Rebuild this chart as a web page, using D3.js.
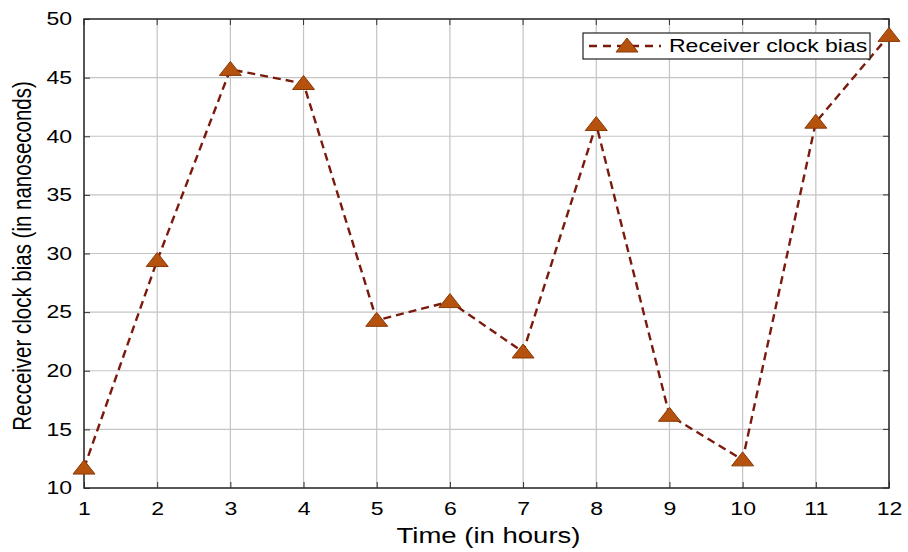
<!DOCTYPE html>
<html>
<head>
<meta charset="utf-8">
<script src="https://cdn.jsdelivr.net/npm/d3@7"></script>
<style>
  html, body { margin: 0; padding: 0; background: #fff; }
  svg text { font-family: "Liberation Sans", Arial, sans-serif; fill: #000; }
</style>
</head>
<body>
<svg id="chart" width="908" height="552"></svg>
<script>
// Hourly receiver clock bias estimates (ns)
const hours = [1, 2, 3, 4, 5, 6, 7, 8, 9, 10, 11, 12];
const clockBias = [11.7, 29.4, 45.7, 44.5, 24.3, 25.9, 21.6, 41.0, 16.2, 12.4, 41.2, 48.6];
const xTicks = [1, 2, 3, 4, 5, 6, 7, 8, 9, 10, 11, 12];
const yTicks = [10, 15, 20, 25, 30, 35, 40, 45, 50];
const seriesName = "Receiver clock bias";
const xTitle = "Time (in hours)";
const yTitle = "Recceiver clock bias (in nanoseconds)";

const svg = d3.select("#chart");
const m = { left: 84, right: 19, top: 19, bottom: 64 };
const W = 908, H = 552;
const iw = W - m.left - m.right, ih = H - m.top - m.bottom;
const sx = 1.28; // horizontal text stretch

const x = d3.scaleLinear().domain([1, 12]).range([m.left, m.left + iw]);
const y = d3.scaleLinear().domain([10, 50]).range([m.top + ih, m.top]);

const lineColor = "#7a1a0c";
const markerFill = "#b4520e";
const markerStroke = "#8a3a08";

// flattened upward triangle marker
const triPath = "M0,-8L11,6L-11,6Z";

// grid
const g = svg.append("g");
g.selectAll(".vg").data(xTicks).join("line")
  .attr("x1", d => x(d)).attr("x2", d => x(d))
  .attr("y1", m.top).attr("y2", m.top + ih)
  .attr("stroke", "#c4c4c4").attr("stroke-width", 1.2);
g.selectAll(".hg").data(yTicks).join("line")
  .attr("y1", d => y(d)).attr("y2", d => y(d))
  .attr("x1", m.left).attr("x2", m.left + iw)
  .attr("stroke", "#c4c4c4").attr("stroke-width", 1.2);

// axes
const xAxis = d3.axisBottom(x).tickValues(xTicks).tickSize(-6).tickPadding(14).tickFormat(d3.format("d"));
const yAxis = d3.axisLeft(y).tickValues(yTicks).tickSize(-6).tickPadding(12).tickFormat(d3.format("d"));
const xa = svg.append("g").attr("transform", `translate(0,${m.top + ih})`).call(xAxis);
const ya = svg.append("g").attr("transform", `translate(${m.left},0)`).call(yAxis);
[xa, ya].forEach(a => {
  a.select(".domain").remove();
  a.selectAll(".tick line").attr("stroke", "#333").attr("stroke-width", 1);
  a.selectAll("text").style("font-size", "18px").style("fill", "#000");
});
xa.selectAll(".tick text").attr("transform", `scale(${sx},1)`);
ya.selectAll(".tick text").attr("x", -12 / sx).attr("transform", `scale(${sx},1)`);

// top/right tick marks
svg.append("g").selectAll("line").data(xTicks).join("line")
  .attr("x1", d => x(d)).attr("x2", d => x(d))
  .attr("y1", m.top).attr("y2", m.top + 6).attr("stroke", "#333");
svg.append("g").selectAll("line").data(yTicks).join("line")
  .attr("y1", d => y(d)).attr("y2", d => y(d))
  .attr("x1", m.left + iw).attr("x2", m.left + iw - 6).attr("stroke", "#333");

// frame
svg.append("rect").attr("x", m.left).attr("y", m.top).attr("width", iw).attr("height", ih)
  .attr("fill", "none").attr("stroke", "#2a2a2a").attr("stroke-width", 1.5);

// series
const pts = hours.map((h, i) => [h, clockBias[i]]);
svg.append("path").datum(pts)
  .attr("d", d3.line().x(d => x(d[0])).y(d => y(d[1])))
  .attr("fill", "none").attr("stroke", lineColor).attr("stroke-width", 2.4)
  .attr("stroke-dasharray", "8,5");

svg.append("g").selectAll("path").data(pts).join("path")
  .attr("d", triPath)
  .attr("transform", d => `translate(${x(d[0])},${y(d[1])})`)
  .attr("fill", markerFill).attr("stroke", markerStroke).attr("stroke-width", 1);

// legend
const lg = svg.append("g");
lg.append("rect").attr("x", 583).attr("y", 33).attr("width", 287).attr("height", 26)
  .attr("fill", "#fff").attr("stroke", "#222").attr("stroke-width", 1.2);
lg.append("line").attr("x1", 589).attr("x2", 661).attr("y1", 46).attr("y2", 46)
  .attr("stroke", lineColor).attr("stroke-width", 2.4).attr("stroke-dasharray", "8,6");
lg.append("path").attr("d", triPath).attr("transform", "translate(627,46)")
  .attr("fill", markerFill).attr("stroke", markerStroke).attr("stroke-width", 1);
lg.append("text").attr("transform", `translate(669,52) scale(${sx},1)`)
  .style("font-size", "18px").text(seriesName);

// axis titles
svg.append("text").attr("transform", `translate(${m.left + iw / 2 + 2},543) scale(${sx},1)`)
  .attr("text-anchor", "middle").style("font-size", "21.5px").text(xTitle);
svg.append("text").attr("transform", `translate(31,256) scale(${sx},1) rotate(-90)`)
  .attr("text-anchor", "middle").style("font-size", "20.5px").text(yTitle);
</script>
</body>
</html>
